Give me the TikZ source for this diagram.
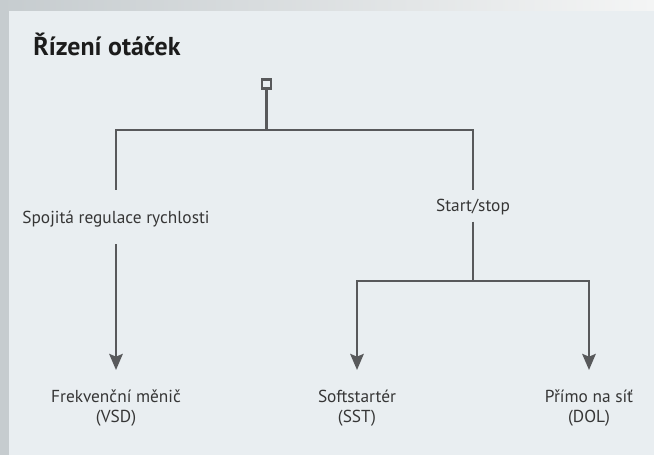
\documentclass[tikz,border=0pt]{standalone}
\usepackage{fontspec}
\setmainfont{PT Sans}
\usetikzlibrary{arrows.meta}
\definecolor{linegrey}{HTML}{58595B}
\definecolor{textgrey}{HTML}{363636}
\definecolor{titlegrey}{HTML}{1C1C1C}
\definecolor{panel}{HTML}{E9EEF1}
\definecolor{edgegrey}{HTML}{C6CCCF}
\definecolor{edgelight}{HTML}{F4F5F5}
\begin{document}
\begin{tikzpicture}[
        x=0.75pt, y=-0.75pt,
        title/.style={font=\bfseries\fontsize{19.4}{23}\selectfont, text=titlegrey, anchor=base west, inner sep=0pt},
        branch/.style={font=\fontsize{13}{15}\selectfont, text=textgrey, inner xsep=0pt, text height=9pt, text depth=0pt},
        leaf/.style={font=\fontsize{13}{15}\selectfont, text=textgrey, align=center, anchor=north, inner xsep=0pt, inner ysep=12.5pt},
        rootbox/.style={draw=linegrey, line width=1.8pt, fill=panel, minimum size=7pt, inner sep=0pt},
        conn/.style={draw=linegrey, line width=2.2pt},
        arrow/.style={conn, -{Stealth[inset=2pt, length=12pt, width=10pt]}}
    ]
        % Hintergrund
        \useasboundingbox (0,0) rectangle (654,455);
        \fill[edgegrey] (0,0) rectangle (654,455);
        \shade[left color=edgegrey, right color=edgelight] (0,0) rectangle (654,11);
        \fill[panel] (9,11) rectangle (654,455);

        % Titel
        \node[title] (head) at (33,55) {Řízení otáček};

        % Wurzel
        \node[rootbox] (root) at (266.5,84) {};
        \coordinate (split) at (266.5,130);

        % Ebene 1
        \node[branch, inner ysep=15.9pt] (vsr) at (116,217) {Spojitá regulace rychlosti};
        \node[branch, inner ysep=7.3pt] (ss) at (473,205.5) {Start/stop};
        \coordinate (ssplit) at (473,281);

        % Ebene 2
        \node[leaf] (vsd) at (116,370) {\vphantom{Ř}Frekvenční měnič\\(VSD)};
        \node[leaf] (sst) at (357,370) {\vphantom{Ř}Softstartér\\(SST)};
        \node[leaf] (dol) at (589,370) {\vphantom{Ř}Přímo na síť\\(DOL)};

        % Verbindungen
        \draw[conn] (root) -- (split);
        \draw[conn] (split) -| (vsr);
        \draw[conn] (split) -| (ss);
        \draw[arrow] (vsr) -- (vsd);
        \draw[conn] (ss) -- (ssplit);
        \foreach \n in {sst,dol}
            \draw[arrow] (ssplit) -| (\n);

    \end{tikzpicture}
\end{document}
